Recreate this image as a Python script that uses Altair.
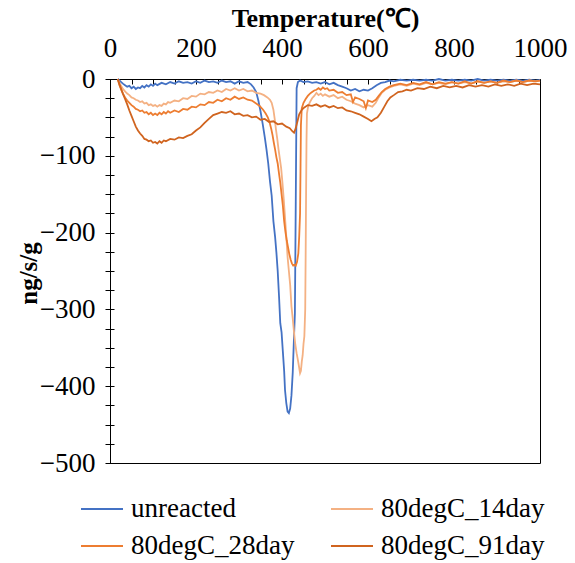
import altair as alt
import pandas as pd

SERIES = ["unreacted", "80degC_14day", "80degC_28day", "80degC_91day"]
COLORS = ["#4472C4", "#F4B183", "#ED7D31", "#D0641F"]

unreacted = [(18,0),(22,-2),(26,-4),(30,-6),(35,-8),(40,-10),(45,-9),(50,-12),(55,-10),(60,-13),(65,-11),(70,-12),(75,-9),(80,-11),(85,-8),(90,-10),(95,-7),(100,-9),(105,-6),(110,-8),(120,-5),(130,-7),(140,-4),(150,-6),(160,-3),(170,-5),(180,-4),(190,-6),(200,-3),(210,-5),(220,-2),(230,-4),(240,-3),(250,-5),(260,-2),(270,-4),(280,-3),(290,-6),(300,-3),(310,-5),(320,-4),(328,-7),(334,-11),(340,-17),(345,-28),(350,-42),(355,-58),(360,-76),(364,-92),(368,-110),(372,-133),(376,-152),(380,-185),(384,-206),(387,-226),(390,-250),(393,-282),(396,-318),(399,-330),(402,-355),(405,-380),(407,-405),(410,-422),(413,-433),(416,-435),(419,-429),(422,-412),(425,-382),(428,-335),(430,-305),(432,-160),(434,-12),(437,-4),(442,-2),(450,-4),(460,-3),(470,-5),(480,-4),(490,-6),(500,-4),(510,-7),(520,-5),(530,-8),(540,-10),(550,-12),(560,-15),(570,-13),(580,-16),(590,-14),(600,-15),(610,-12),(620,-8),(630,-5),(640,-4),(650,-2),(660,-3),(675,-1),(690,-2),(705,-1),(720,-2),(735,-1),(750,-2),(765,0),(780,-2),(795,-1),(810,-2),(825,-1),(840,-2),(855,0),(870,-2),(885,-1),(900,-2),(915,-1),(930,-2),(945,-1),(960,-2),(975,-1),(990,-2),(1000,-1)]

day14 = [(18,0),(22,-5),(26,-9),(30,-13),(35,-16),(40,-19),(45,-21),(50,-24),(55,-25),(60,-27),(65,-28),(70,-30),(75,-29),(80,-32),(85,-31),(90,-34),(95,-33),(100,-35),(105,-34),(110,-36),(115,-34),(120,-35),(125,-32),(130,-33),(135,-30),(140,-31),(150,-28),(160,-29),(170,-25),(180,-26),(190,-22),(200,-23),(210,-19),(220,-20),(230,-17),(240,-18),(250,-15),(260,-17),(270,-13),(280,-15),(290,-12),(300,-15),(310,-13),(320,-16),(330,-15),(340,-18),(350,-19),(358,-21),(366,-24),(372,-27),(376,-31),(380,-40),(383,-52),(386,-66),(389,-78),(392,-92),(395,-104),(398,-116),(401,-135),(404,-156),(407,-180),(410,-205),(413,-232),(416,-250),(419,-268),(422,-296),(425,-312),(428,-330),(431,-346),(434,-357),(437,-366),(440,-376),(442,-383),(444,-380),(446,-368),(448,-360),(450,-345),(452,-335),(454,-300),(455,-230),(456,-150),(457,-80),(458,-45),(461,-35),(465,-30),(470,-25),(475,-22),(480,-18),(485,-21),(490,-19),(495,-22),(500,-20),(510,-23),(520,-21),(530,-25),(540,-23),(550,-27),(560,-29),(570,-32),(580,-34),(590,-37),(600,-34),(610,-36),(618,-31),(625,-24),(632,-18),(640,-14),(650,-11),(660,-9),(675,-7),(690,-9),(705,-6),(720,-8),(735,-5),(750,-7),(765,-5),(780,-7),(795,-4),(810,-6),(825,-4),(840,-6),(855,-3),(870,-5),(885,-3),(900,-5),(915,-3),(930,-4),(945,-2),(960,-4),(975,-2),(990,-3),(1000,-2)]

day28 = [(18,0),(22,-8),(26,-14),(30,-19),(35,-24),(40,-28),(45,-31),(50,-34),(55,-36),(60,-39),(65,-40),(70,-42),(75,-41),(80,-44),(85,-43),(90,-46),(95,-44),(100,-47),(105,-45),(110,-47),(115,-44),(120,-46),(125,-43),(130,-45),(135,-42),(140,-44),(150,-41),(160,-43),(170,-39),(180,-40),(190,-36),(200,-37),(210,-33),(220,-34),(230,-30),(240,-31),(250,-27),(260,-29),(270,-25),(280,-27),(290,-23),(300,-26),(310,-24),(320,-27),(330,-28),(340,-32),(348,-35),(356,-40),(362,-45),(367,-50),(371,-56),(375,-65),(378,-73),(381,-83),(384,-92),(387,-102),(390,-110),(393,-123),(396,-135),(399,-150),(402,-165),(405,-185),(408,-199),(411,-210),(414,-219),(417,-228),(420,-235),(423,-240),(426,-243),(429,-242),(432,-243),(435,-238),(438,-227),(440,-205),(442,-175),(443,-120),(444,-60),(446,-38),(450,-31),(455,-26),(460,-22),(465,-19),(470,-17),(475,-15),(480,-14),(485,-12),(490,-14),(495,-11),(500,-13),(505,-12),(510,-15),(520,-14),(530,-18),(540,-17),(550,-21),(560,-20),(565,-30),(570,-24),(580,-26),(590,-29),(595,-38),(600,-28),(610,-30),(618,-27),(625,-22),(632,-17),(640,-13),(650,-10),(660,-8),(675,-6),(690,-8),(705,-5),(720,-7),(735,-4),(750,-7),(765,-4),(780,-6),(795,-4),(810,-6),(825,-3),(840,-6),(855,-3),(870,-5),(885,-3),(900,-5),(915,-2),(930,-4),(945,-2),(960,-4),(975,-2),(990,-3),(1000,-2)]

day91 = [(18,0),(22,-7),(26,-13),(30,-19),(35,-26),(40,-33),(45,-41),(50,-48),(55,-55),(60,-62),(65,-67),(70,-71),(75,-74),(80,-78),(85,-79),(90,-81),(95,-80),(100,-83),(105,-82),(110,-84),(115,-81),(120,-83),(125,-80),(130,-81),(140,-78),(150,-79),(160,-76),(170,-77),(180,-74),(190,-72),(200,-67),(210,-63),(220,-57),(230,-52),(240,-47),(250,-45),(260,-43),(270,-44),(280,-42),(290,-46),(300,-45),(310,-48),(320,-47),(330,-50),(340,-49),(350,-53),(360,-52),(370,-56),(380,-55),(390,-59),(400,-58),(410,-62),(418,-64),(424,-68),(428,-70),(432,-64),(436,-55),(440,-46),(446,-40),(452,-37),(460,-34),(470,-35),(480,-33),(490,-36),(500,-34),(510,-37),(520,-35),(530,-38),(540,-37),(550,-41),(560,-42),(570,-44),(580,-46),(590,-49),(600,-52),(608,-55),(615,-52),(622,-50),(630,-44),(638,-36),(645,-29),(652,-24),(660,-21),(670,-17),(680,-16),(690,-14),(700,-15),(715,-12),(730,-13),(745,-10),(760,-12),(775,-9),(790,-11),(805,-9),(820,-11),(835,-8),(850,-10),(865,-8),(880,-10),(895,-7),(910,-9),(925,-7),(940,-9),(955,-6),(970,-8),(985,-6),(1000,-7)]

X_TICKS = list(range(0, 1001, 50))
Y_TICKS = list(range(-500, 1, 25))

rows = []
for name, pts in zip(SERIES, [unreacted, day14, day28, day91]):
    for t, v in pts:
        rows.append({"series": name, "T": t, "V": v})
df = pd.DataFrame(rows)

FONT = "Liberation Serif"

chart = alt.Chart(df).mark_line(strokeWidth=1.8).encode(
    x=alt.X("T:Q",
            scale=alt.Scale(domain=[0, 1000], nice=False, zero=False),
            axis=alt.Axis(orient="top", title="Temperature(℃)", values=X_TICKS, format="d",
                          labelExpr="datum.value % 200 == 0 ? datum.label : ''",
                          offset=-5, tickSize=5, tickColor="black", tickWidth=1,
                          domain=False, grid=False, labelOverlap=False, labelFlush=False,
                          labelFont=FONT, labelFontSize=27, labelColor="black", labelPadding=17,
                          titleFont=FONT, titleFontSize=26, titleFontWeight="bold",
                          titleColor="black", titleY=-66, titleBaseline="middle")),
    y=alt.Y("V:Q",
            scale=alt.Scale(domain=[-500, 0], nice=False, zero=False),
            axis=alt.Axis(orient="left", title="ng/s/g", values=Y_TICKS, format="d",
                          labelExpr="datum.value % 100 == 0 ? datum.label : ''",
                          offset=-4, tickSize=9, tickColor="black", tickWidth=1,
                          domain=False, grid=False, labelOverlap=False,
                          labelFont=FONT, labelFontSize=27, labelColor="black", labelPadding=10,
                          titleFont=FONT, titleFontSize=25, titleFontWeight="bold",
                          titleColor="black", titleX=-86, titleY=194, titleBaseline="middle")),
    color=alt.Color("series:N",
                    scale=alt.Scale(domain=SERIES, range=COLORS),
                    legend=alt.Legend(orient="none", legendX=-30, legendY=408, columns=2,
                                      direction="horizontal",
                                      title=None, symbolType="stroke", symbolSize=1764,
                                      symbolStrokeWidth=2, labelFont=FONT, labelFontSize=27,
                                      labelLimit=400,
                                      labelColor="black", labelOffset=7, columnPadding=32,
                                      rowPadding=2)),
).properties(
    width=430, height=384,
    padding={"left": 110, "top": 79, "right": 35, "bottom": 100},
    autosize=alt.AutoSizeParams(type="none"),
    background="white",
).configure_view(stroke="black", strokeWidth=1)

chart.save("out.html", embed_options={"renderer": "svg", "actions": False})
